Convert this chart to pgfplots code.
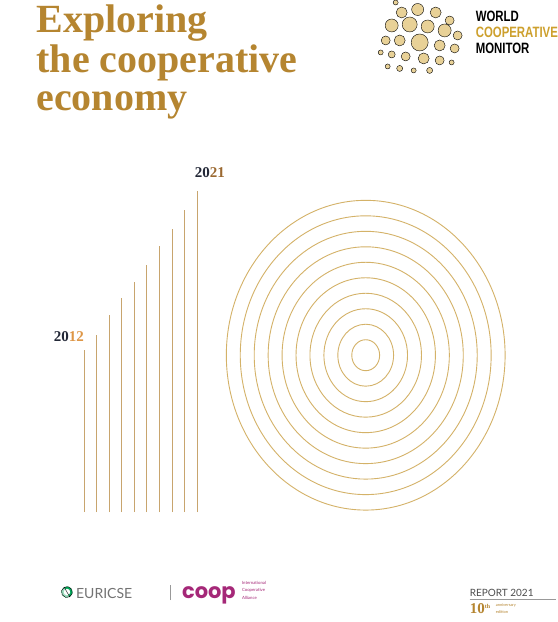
\documentclass[border=0pt]{standalone}
\usepackage{fontspec}
\setmainfont{Liberation Serif}
\newfontfamily\condfont[FakeStretch=0.76]{Liberation Sans}
\newfontfamily\latofont{Lato}
\newfontfamily\popfont{Poppins}
\usepackage{pgfplots}
\usepackage{pgfplotstable}
\pgfplotsset{compat=1.18}
\definecolor{titlegold}{RGB}{181,133,48}
\definecolor{bargold}{RGB}{200,165,110}
\definecolor{ringgold}{RGB}{212,178,104}
\definecolor{logogold}{RGB}{205,160,45}
\definecolor{darkyear}{RGB}{35,40,55}
\definecolor{orangeyear}{RGB}{222,150,70}
\definecolor{coopmag}{RGB}{165,40,120}
\definecolor{dotlight}{RGB}{230,205,140}
\definecolor{dotdark}{RGB}{196,145,55}
% bars: x position, base (y-up, px), length
\pgfplotstableread{
x     base  v    year
84.0  110   162  2012
96.6  110   177  2013
109.2 110   197  2014
121.8 110   214  2015
134.4 110   230  2016
147.0 110   247  2017
159.6 110   266  2018
172.2 110   283  2019
184.8 110   302  2020
197.4 110   321  2021
}\bars
% concentric rings: centre and radius (vertical, px)
\pgfplotstableread{
x    y    r
366  267  15.5
366  267  31.0
366  267  46.5
366  267  62.0
366  267  77.5
366  267  93.0
366  267  108.5
366  267  124.0
366  267  139.5
366  267  155.0
}\rings
% logo dots
\pgfplotstableread{
x    y    r    c
402  610  5.5  0.8
418  613  6.0  1.0
436  610  5.5  0.9
450  602  4.5  0.7
392  597  6.5  0.9
410  598  7.5  1.0
428  596  6.5  1.0
445  592  6.5  0.9
458  587  4.5  0.6
386  582  4.5  0.6
400  582  5.5  0.8
420  580  8.5  1.0
440  577  5.5  0.9
455  574  4.5  0.7
392  568  3.5  0.5
406  566  4.5  0.7
424  564  5.5  0.9
440  562  4.5  0.7
452  560  2.5  0.5
388  556  2.5  0.4
400  554  3.0  0.5
414  552  2.5  0.4
430  552  3.0  0.6
381  570  2.5  0.4
396  620  2.5  0.5
}\dots
\begin{document}
\begin{tikzpicture}
\fill[white] (0,0) rectangle (556bp,622bp);
\begin{axis}[
  at={(0,0)}, anchor=south west,
  scale only axis, width=556bp, height=622bp,
  xmin=0, xmax=556, ymin=0, ymax=622,
  hide axis, clip=false,
]
% year bars
\addplot[quiver={u=0, v=\thisrow{v}}, draw=bargold, line width=0.85bp, mark=none]
  table[x=x, y=base] {\bars};
% rings
\addplot[scatter, only marks, mark=o, line width=0.9bp,
  scatter/use mapped color={draw=ringgold, fill=none},
  visualization depends on={\thisrow{r} \as \rr},
  scatter/@pre marker code/.append style={/tikz/mark size=\rr bp, /tikz/xscale=0.9},
] table[x=x, y=y] {\rings};
% logo dots
\addplot[scatter, only marks, mark=*, point meta=\thisrow{c},
  colormap={gold}{color=(dotlight) color=(dotdark)},
  point meta min=0.3, point meta max=1,
  scatter/use mapped color={draw=none, fill=mapped color, fill opacity=0.9},
  visualization depends on={\thisrow{r} \as \rr},
  scatter/@pre marker code/.append style={/tikz/mark size=\rr bp},
] table[x=x, y=y] {\dots};
% euricse ring
\addplot[only marks, mark=o, mark size=4.5bp, line width=2bp, draw=teal!70!green] coordinates {(67,30)};
\addplot[only marks, mark=halfcircle, mark size=5.5bp, mark options={rotate=-60, draw=none, fill=orange!80!red, fill opacity=0.6}] coordinates {(67,30)};
% separator and underline
\addplot[draw=gray!80, line width=0.6bp] coordinates {(170,22) (170,37)};
\addplot[draw=gray!80, line width=0.6bp] coordinates {(470,23) (556,23)};
% title
\node[anchor=base west, text=titlegold, font=\fontsize{40bp}{40bp}\selectfont\bfseries] at (axis cs:33,590.3) {Exploring};
\node[anchor=base west, text=titlegold, font=\fontsize{40bp}{40bp}\selectfont\bfseries] at (axis cs:33,550.3) {the cooperative};
\node[anchor=base west, text=titlegold, font=\fontsize{40bp}{40bp}\selectfont\bfseries] at (axis cs:33,512) {economy};
% logo text
\node[anchor=base west, inner sep=0, font=\condfont\fontsize{15bp}{15bp}\selectfont\bfseries] at (axis cs:476,601) {WORLD};
\node[anchor=base west, inner sep=0, text=logogold, font=\condfont\fontsize{15bp}{15bp}\selectfont\bfseries] at (axis cs:476,585) {COOPERATIVE};
\node[anchor=base west, inner sep=0, font=\condfont\fontsize{15bp}{15bp}\selectfont\bfseries] at (axis cs:476,569) {MONITOR};
% year labels
\node[font=\fontsize{15bp}{15bp}\selectfont\bfseries] at (axis cs:69,286) {\textcolor{darkyear}{20}\textcolor{orangeyear}{12}};
\node[font=\fontsize{15bp}{15bp}\selectfont\bfseries] at (axis cs:210,450) {\textcolor{darkyear}{20}\textcolor{orangeyear!70!black}{21}};
% footer
\node[anchor=base west, inner sep=0, text=gray!90!black, font=\latofont\fontsize{14bp}{14bp}\selectfont] at (axis cs:76,24) {EURICSE};
\node[anchor=base west, inner sep=0, text=coopmag, font=\popfont\fontsize{21bp}{21bp}\selectfont\bfseries] at (axis cs:182,24) {coop};
\node[anchor=base west, inner sep=0, text=coopmag, font=\latofont\fontsize{4.3bp}{4.3bp}\selectfont] at (axis cs:242,38) {International};
\node[anchor=base west, inner sep=0, text=coopmag, font=\latofont\fontsize{4.3bp}{4.3bp}\selectfont] at (axis cs:242,30.5) {Cooperative};
\node[anchor=base west, inner sep=0, text=coopmag, font=\latofont\fontsize{4.3bp}{4.3bp}\selectfont] at (axis cs:242,23) {Alliance};
\node[anchor=base west, inner sep=0, text=gray!60!black, font=\latofont\fontsize{10bp}{10bp}\selectfont] at (axis cs:470,26) {REPORT 2021};
\node[anchor=base west, inner sep=0, text=titlegold, font=\fontsize{15bp}{15bp}\selectfont\bfseries] at (axis cs:470,9) {10\raisebox{5bp}{\fontsize{6bp}{6bp}\selectfont th}};
\node[anchor=base west, inner sep=0, text=titlegold, font=\latofont\fontsize{4bp}{4bp}\selectfont] at (axis cs:496,15.5) {anniversary};
\node[anchor=base west, inner sep=0, text=titlegold, font=\latofont\fontsize{4bp}{4bp}\selectfont] at (axis cs:496,9) {edition};
\end{axis}
\end{tikzpicture}
\end{document}
